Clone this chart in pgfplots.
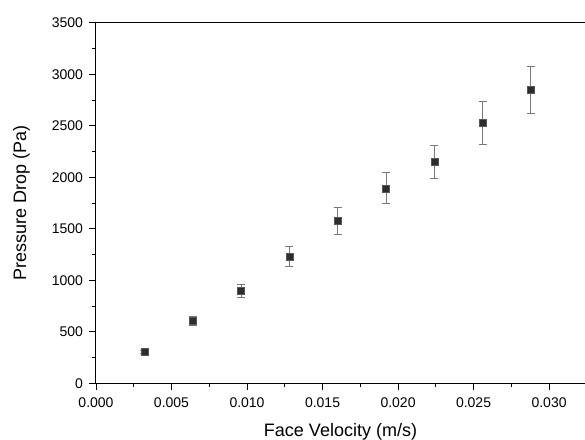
\documentclass[border=0pt]{standalone}
\usepackage{fontspec}
\setmainfont{Liberation Sans}
\usepackage{pgfplots}
\pgfplotsset{compat=1.18}
\definecolor{mark}{RGB}{45,45,45}
\definecolor{ebar}{RGB}{120,120,120}

\begin{document}
\begin{tikzpicture}
\begin{axis}[
  scale only axis,
  width=489pt, height=360.6pt,
  xmin=0, xmax=0.03238,
  ymin=0, ymax=3500,
  axis lines*=left,
  axis line style={line width=1pt},
  xtick={0,0.005,...,0.030},
  minor xtick={0.0025,0.0075,...,0.0325},
  ytick={0,500,...,3500},
  minor ytick={250,750,...,3250},
  tick align=outside,
  major tick length=6.5pt,
  minor tick length=3.5pt,
  every tick/.style={black, line width=0.9pt},
  xticklabel style={/pgf/number format/fixed,/pgf/number format/fixed zerofill,/pgf/number format/precision=3},
  yticklabel style={/pgf/number format/fixed,/pgf/number format/1000 sep={}},
  scaled x ticks=false,
  /pgf/number format/assume math mode=true,
  tick label style={font=\fontsize{14}{16}\selectfont},
  label style={font=\fontsize{18}{21}\selectfont},
  xticklabel shift=4pt,
  yticklabel shift=3pt,
  xlabel={Face Velocity (m/s)},
  ylabel={Pressure Drop (Pa)},
  xlabel style={yshift=-9pt},
  ylabel style={yshift=15pt},
  clip=false,
]
\addplot[only marks, mark=square*, mark size=3.5pt,
  mark options={fill=mark, draw=mark!80},
  error bars/.cd, y dir=both, y explicit,
  error bar style={ebar, line width=0.9pt},
  error mark options={rotate=90, mark size=4pt, ebar, line width=0.9pt}]
  coordinates {
  (0.0032,307) +- (0,15)
  (0.0064,608) +- (0,45)
  (0.0096,896) +- (0,65)
  (0.0128,1230) +- (0,100)
  (0.0160,1576) +- (0,129)
  (0.0192,1893) +- (0,152)
  (0.0224,2148) +- (0,160)
  (0.0256,2527) +- (0,205)
  (0.0288,2847) +- (0,228)
  };
\draw[line width=1pt] (rel axis cs:0,1) -- (rel axis cs:1.02,1);
\coordinate (bl) at (rel axis cs:0,0);
\coordinate (tr) at (rel axis cs:1,1);
\end{axis}
\pgfresetboundingbox
\path ([xshift=-96pt,yshift=-55.7pt]bl) rectangle ([yshift=22.7pt]tr);
\end{tikzpicture}
\end{document}
